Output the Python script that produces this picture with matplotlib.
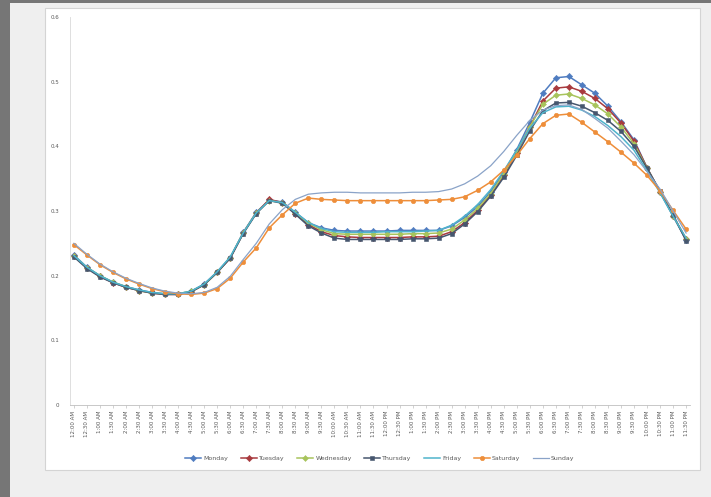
import matplotlib
matplotlib.use("Agg")
import matplotlib.pyplot as plt
from matplotlib.patches import Rectangle

# Half-hour time slots across the day
hours = [12] + list(range(1, 12))
time_labels = [f"{h}:{m:02d} AM" for h in hours for m in (0, 30)] + \
              [f"{h}:{m:02d} PM" for h in hours for m in (0, 30)]

monday = [0.232, 0.213, 0.200, 0.190, 0.183, 0.178, 0.174, 0.172, 0.172, 0.176,
          0.187, 0.206, 0.228, 0.267, 0.298, 0.317, 0.314, 0.298, 0.282, 0.274,
          0.270, 0.269, 0.269, 0.269, 0.269, 0.270, 0.270, 0.270, 0.270, 0.277,
          0.290, 0.307, 0.330, 0.360, 0.395, 0.437, 0.482, 0.506, 0.508, 0.495,
          0.482, 0.462, 0.438, 0.410, 0.367, 0.329, 0.292, 0.255]
tuesday = [0.230, 0.212, 0.199, 0.189, 0.182, 0.177, 0.173, 0.171, 0.171, 0.175,
           0.186, 0.205, 0.227, 0.266, 0.297, 0.318, 0.313, 0.296, 0.279, 0.268,
           0.262, 0.260, 0.259, 0.259, 0.259, 0.259, 0.260, 0.260, 0.261, 0.268,
           0.282, 0.301, 0.325, 0.355, 0.390, 0.430, 0.470, 0.490, 0.492, 0.485,
           0.474, 0.458, 0.436, 0.408, 0.367, 0.330, 0.293, 0.257]
wednesday = [0.231, 0.212, 0.200, 0.190, 0.183, 0.177, 0.173, 0.172, 0.172, 0.176,
             0.186, 0.205, 0.228, 0.266, 0.297, 0.316, 0.313, 0.297, 0.281, 0.271,
             0.265, 0.264, 0.264, 0.264, 0.264, 0.264, 0.265, 0.265, 0.266, 0.272,
             0.286, 0.304, 0.327, 0.357, 0.392, 0.430, 0.465, 0.479, 0.481, 0.474,
             0.464, 0.450, 0.430, 0.404, 0.366, 0.330, 0.293, 0.256]
thursday = [0.229, 0.211, 0.198, 0.189, 0.182, 0.177, 0.173, 0.171, 0.171, 0.175,
            0.186, 0.205, 0.227, 0.265, 0.296, 0.316, 0.312, 0.295, 0.277, 0.266,
            0.258, 0.256, 0.256, 0.256, 0.256, 0.256, 0.257, 0.257, 0.258, 0.265,
            0.280, 0.299, 0.323, 0.352, 0.386, 0.424, 0.455, 0.467, 0.468, 0.462,
            0.452, 0.440, 0.423, 0.400, 0.366, 0.331, 0.294, 0.254]
friday = [0.231, 0.213, 0.200, 0.190, 0.183, 0.178, 0.174, 0.172, 0.172, 0.176,
          0.187, 0.206, 0.229, 0.266, 0.297, 0.316, 0.313, 0.298, 0.282, 0.273,
          0.268, 0.267, 0.267, 0.267, 0.268, 0.268, 0.268, 0.269, 0.270, 0.278,
          0.292, 0.310, 0.333, 0.362, 0.394, 0.428, 0.452, 0.461, 0.462, 0.456,
          0.446, 0.432, 0.415, 0.394, 0.362, 0.328, 0.292, 0.258]
saturday = [0.248, 0.232, 0.217, 0.205, 0.195, 0.187, 0.180, 0.175, 0.172, 0.171,
            0.173, 0.180, 0.196, 0.221, 0.243, 0.274, 0.294, 0.312, 0.320, 0.318,
            0.317, 0.316, 0.316, 0.316, 0.316, 0.316, 0.316, 0.316, 0.317, 0.318,
            0.322, 0.332, 0.345, 0.363, 0.386, 0.412, 0.435, 0.448, 0.450, 0.437,
            0.422, 0.407, 0.391, 0.374, 0.355, 0.331, 0.301, 0.272]
sunday = [0.250, 0.233, 0.218, 0.206, 0.196, 0.188, 0.181, 0.176, 0.173, 0.172,
          0.174, 0.182, 0.199, 0.225, 0.250, 0.280, 0.302, 0.318, 0.326, 0.328,
          0.329, 0.329, 0.328, 0.328, 0.328, 0.328, 0.329, 0.329, 0.330, 0.334,
          0.342, 0.354, 0.370, 0.392, 0.417, 0.440, 0.456, 0.463, 0.464, 0.457,
          0.443, 0.428, 0.408, 0.387, 0.361, 0.334, 0.300, 0.266]

series = [
    ("Monday", monday, "#4F7CC0", "D", 3.2, 1.1),
    ("Tuesday", tuesday, "#A83A3E", "D", 3.2, 1.1),
    ("Wednesday", wednesday, "#A8C45C", "D", 3.0, 1.1),
    ("Thursday", thursday, "#46566E", "s", 3.0, 1.1),
    ("Friday", friday, "#4FB4CC", None, 0, 1.1),
    ("Saturday", saturday, "#EE8E3A", "o", 3.2, 1.1),
    ("Sunday", sunday, "#8AA3C8", None, 0, 0.9),
]

fig = plt.figure(figsize=(7.11, 4.97), dpi=100)
fig.patch.set_facecolor("#efefef")

W, H = 711.0, 497.0
# dark frame strips at top and left
fig.patches.append(Rectangle((0, 0), 10 / W, 1, transform=fig.transFigure,
                             facecolor="#767676", edgecolor="none", zorder=-3))
fig.patches.append(Rectangle((0, 1 - 3 / H), 1, 3 / H, transform=fig.transFigure,
                             facecolor="#767676", edgecolor="none", zorder=-3))
# white chart box
fig.patches.append(Rectangle((45 / W, 1 - 470 / H), (700 - 45) / W, (470 - 8) / H,
                             transform=fig.transFigure, facecolor="white",
                             edgecolor="#d4d4d4", linewidth=0.8, zorder=-2))

ax = fig.add_axes([70 / W, 1 - 405 / H, (690 - 70) / W, (405 - 17) / H])
ax.set_facecolor("none")

x = list(range(len(time_labels)))
for name, vals, color, marker, ms, lw in series:
    ax.plot(x, vals, color=color, linewidth=lw, marker=marker, markersize=ms,
            markeredgewidth=0.4, markeredgecolor=color, label=name)

ax.set_xlim(-0.3, len(time_labels) - 0.7)
ax.set_ylim(0, 0.6)
ax.set_yticks([0, 0.1, 0.2, 0.3, 0.4, 0.5, 0.6])
ax.set_yticklabels(["0", "0.1", "0.2", "0.3", "0.4", "0.5", "0.6"], fontsize=4, color="#595959")
ax.set_xticks(x)
ax.set_xticklabels(time_labels, rotation=90, fontsize=4, color="#595959")
ax.tick_params(axis="y", length=0, pad=8)
ax.tick_params(axis="x", length=2, width=0.5, color="#bfbfbf", pad=2)

for side in ("top", "right"):
    ax.spines[side].set_visible(False)
ax.spines["left"].set_color("#d9d9d9")
ax.spines["left"].set_linewidth(0.6)
ax.spines["bottom"].set_color("#bfbfbf")
ax.spines["bottom"].set_linewidth(0.6)

ax.legend(loc="center", bbox_to_anchor=(380 / W, 1 - 458 / H),
          bbox_transform=fig.transFigure, ncol=7, fontsize=4.5, frameon=False,
          handlelength=2.5, columnspacing=2.0, handletextpad=0.4,
          labelcolor="#595959")

fig.savefig("out.png", dpi=100, facecolor=fig.get_facecolor())
